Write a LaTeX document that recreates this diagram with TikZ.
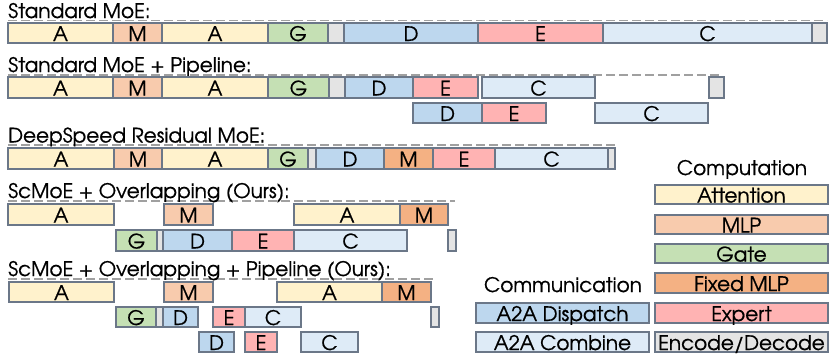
\documentclass[tikz,border=0pt]{standalone}
\usepackage{fontspec}
\setmainfont{TeX Gyre Adventor}[FakeBold=0.7]
\definecolor{cAtt}{HTML}{FFF2CC}
\definecolor{cMlp}{HTML}{F8CBAD}
\definecolor{cGate}{HTML}{C5E0B4}
\definecolor{cFix}{HTML}{F4B183}
\definecolor{cExp}{HTML}{FFB3B3}
\definecolor{cEnc}{HTML}{E4E4E4}
\definecolor{cDis}{HTML}{BDD7EE}
\definecolor{cCom}{HTML}{DEEBF7}
\definecolor{cBorder}{HTML}{6B7788}
\definecolor{cDash}{HTML}{A0A0A0}
\tikzset{
  blk/.style={draw=cBorder, line width=1.2pt, inner sep=0pt, outer sep=0pt, anchor=north west,
    font=\fontsize{20}{20}\selectfont},
  att/.style={blk, fill=cAtt}, mlp/.style={blk, fill=cMlp}, gate/.style={blk, fill=cGate},
  fix/.style={blk, fill=cFix}, exp/.style={blk, fill=cExp}, enc/.style={blk, fill=cEnc},
  dis/.style={blk, fill=cDis}, com/.style={blk, fill=cCom},
  ttl/.style={anchor=base west, inner sep=0pt, font=\fontsize{20}{20}\selectfont},
  hdr/.style={anchor=base, inner sep=0pt, font=\fontsize{20}{20}\selectfont},
  sep/.style={cDash, line width=1.3pt, dash pattern=on 9pt off 4pt}
}
% \blkbox{name}{style}{x1}{x2}{ytop}{ybottom}{label}
\newcommand{\blkbox}[7]{%
  \pgfmathsetmacro{\bw}{#4-#3}\pgfmathsetmacro{\bh}{#6-#5}%
  \node[#2, minimum width=\bw pt, minimum height=\bh pt, text height=14pt, text depth=0pt] (#1) at (#3,#5) {\raisebox{-1pt}{#7}};}
\begin{document}
\begin{tikzpicture}[x=1pt,y=-1pt]
\useasboundingbox (0,0) rectangle (830,354);
% ---------- Row 1: Standard MoE
\draw[sep] (8,20.7) coordinate (s1a) -- (827,20.7) coordinate (s1b);
\node[ttl] (t1) at (8,18) {Standard MoE:};
\blkbox{r1a}{att}{8}{113}{23}{43}{A}
\blkbox{r1b}{mlp}{113}{162}{23}{43}{M}
\blkbox{r1c}{att}{162}{268}{23}{43}{A}
\blkbox{r1d}{gate}{268}{328}{23}{43}{G}
\blkbox{r1e}{enc}{328}{344}{23}{43}{}
\blkbox{r1f}{dis}{344}{478}{23}{43}{D}
\blkbox{r1g}{exp}{478}{603}{23}{43}{E}
\blkbox{r1h}{com}{603}{812}{23}{43}{C}
\blkbox{r1i}{enc}{812}{827}{23}{43}{}
% ---------- Row 2: Standard MoE + Pipeline
\draw[sep] (8,75) coordinate (s2a) -- (722,75) coordinate (s2b);
\node[ttl] (t2) at (8,72) {Standard MoE + Pipeline:};
\blkbox{r2a}{att}{8}{113}{77}{98}{A}
\blkbox{r2b}{mlp}{113}{162}{77}{98}{M}
\blkbox{r2c}{att}{162}{268}{77}{98}{A}
\blkbox{r2d}{gate}{268}{329}{77}{98}{G}
\blkbox{r2e}{enc}{329}{345}{77}{98}{}
\blkbox{r2f}{dis}{345}{413}{77}{98}{D}
\blkbox{r2g}{exp}{413}{478}{77}{98}{E}
\blkbox{r2h}{com}{482}{595}{77}{98}{C}
\blkbox{r2i}{enc}{709}{724}{77}{98}{}
\blkbox{r2j}{dis}{413}{482}{103}{123}{D}
\blkbox{r2k}{exp}{482}{546}{103}{123}{E}
\blkbox{r2l}{com}{595}{708}{103}{123}{C}
% ---------- Row 3: DeepSpeed Residual MoE
\draw[sep] (8,145) coordinate (s3a) -- (617,145) coordinate (s3b);
\node[ttl] (t3) at (8,142.5) {DeepSpeed Residual MoE:};
\blkbox{r3a}{att}{8}{114}{148}{169}{A}
\blkbox{r3b}{mlp}{114}{162}{148}{169}{M}
\blkbox{r3c}{att}{162}{268}{148}{169}{A}
\blkbox{r3d}{gate}{268}{308}{148}{169}{G}
\blkbox{r3e}{enc}{308}{316}{148}{169}{}
\blkbox{r3f}{dis}{316}{384}{148}{169}{D}
\blkbox{r3g}{fix}{384}{433}{148}{169}{M}
\blkbox{r3h}{exp}{433}{495}{148}{169}{E}
\blkbox{r3i}{com}{495}{608}{148}{169}{C}
\blkbox{r3j}{enc}{608}{615}{148}{169}{}
% ---------- Row 4: ScMoE + Overlapping
\draw[sep] (8,201) coordinate (s4a) -- (455,201) coordinate (s4b);
\node[ttl] (t4) at (8,198) {ScMoE + Overlapping (Ours):};
\blkbox{r4a}{att}{8}{114}{204}{225}{A}
\blkbox{r4b}{mlp}{164}{213}{204}{225}{M}
\blkbox{r4c}{att}{294}{400}{204}{225}{A}
\blkbox{r4d}{fix}{400}{448}{204}{225}{M}
\blkbox{r4e}{gate}{116}{157}{230}{251}{G}
\blkbox{r4f}{enc}{157}{163}{230}{251}{}
\blkbox{r4g}{dis}{163}{232}{230}{251}{D}
\blkbox{r4h}{exp}{232}{294}{230}{251}{E}
\blkbox{r4i}{com}{294}{407}{230}{251}{C}
\blkbox{r4j}{enc}{448}{456}{230}{251}{}
% ---------- Row 5: ScMoE + Overlapping + Pipeline
\draw[sep] (8,279) coordinate (s5a) -- (435,279) coordinate (s5b);
\node[ttl] (t5) at (8,276) {ScMoE + Overlapping + Pipeline (Ours):};
\blkbox{r5a}{att}{9}{114}{282}{302}{A}
\blkbox{r5b}{mlp}{164}{213}{282}{302}{M}
\blkbox{r5c}{att}{277}{382}{282}{302}{A}
\blkbox{r5d}{fix}{382}{431}{282}{302}{M}
\blkbox{r5e}{gate}{116}{156}{307}{327}{G}
\blkbox{r5f}{enc}{156}{163}{307}{327}{}
\blkbox{r5g}{dis}{163}{198}{307}{327}{D}
\blkbox{r5h}{exp}{213}{245}{307}{327}{E}
\blkbox{r5i}{com}{245}{301}{307}{327}{C}
\blkbox{r5j}{enc}{431}{439}{307}{327}{}
\blkbox{r5k}{dis}{199}{234}{332}{352}{D}
\blkbox{r5l}{exp}{245}{277}{332}{352}{E}
\blkbox{r5m}{com}{301}{358}{332}{352}{C}
% ---------- Legend
\node[hdr] (hcomp) at (742,175) {Computation};
\blkbox{lAtt}{att}{655}{828}{185}{204}{Attention}
\blkbox{lMlp}{mlp}{655}{828}{215}{234}{MLP}
\blkbox{lGate}{gate}{655}{828}{244}{263}{Gate}
\blkbox{lFix}{fix}{655}{828}{273}{293}{Fixed MLP}
\blkbox{lExp}{exp}{655}{828}{303}{323}{Expert}
\blkbox{lEnc}{enc}{655}{828}{332}{352}{Encode/Decode}
\node[hdr] (hcomm) at (563,292) {Communication};
\blkbox{lDis}{dis}{476}{649}{303}{323}{A2A Dispatch}
\blkbox{lCom}{com}{476}{649}{332}{352}{A2A Combine}
\end{tikzpicture}
\end{document}
